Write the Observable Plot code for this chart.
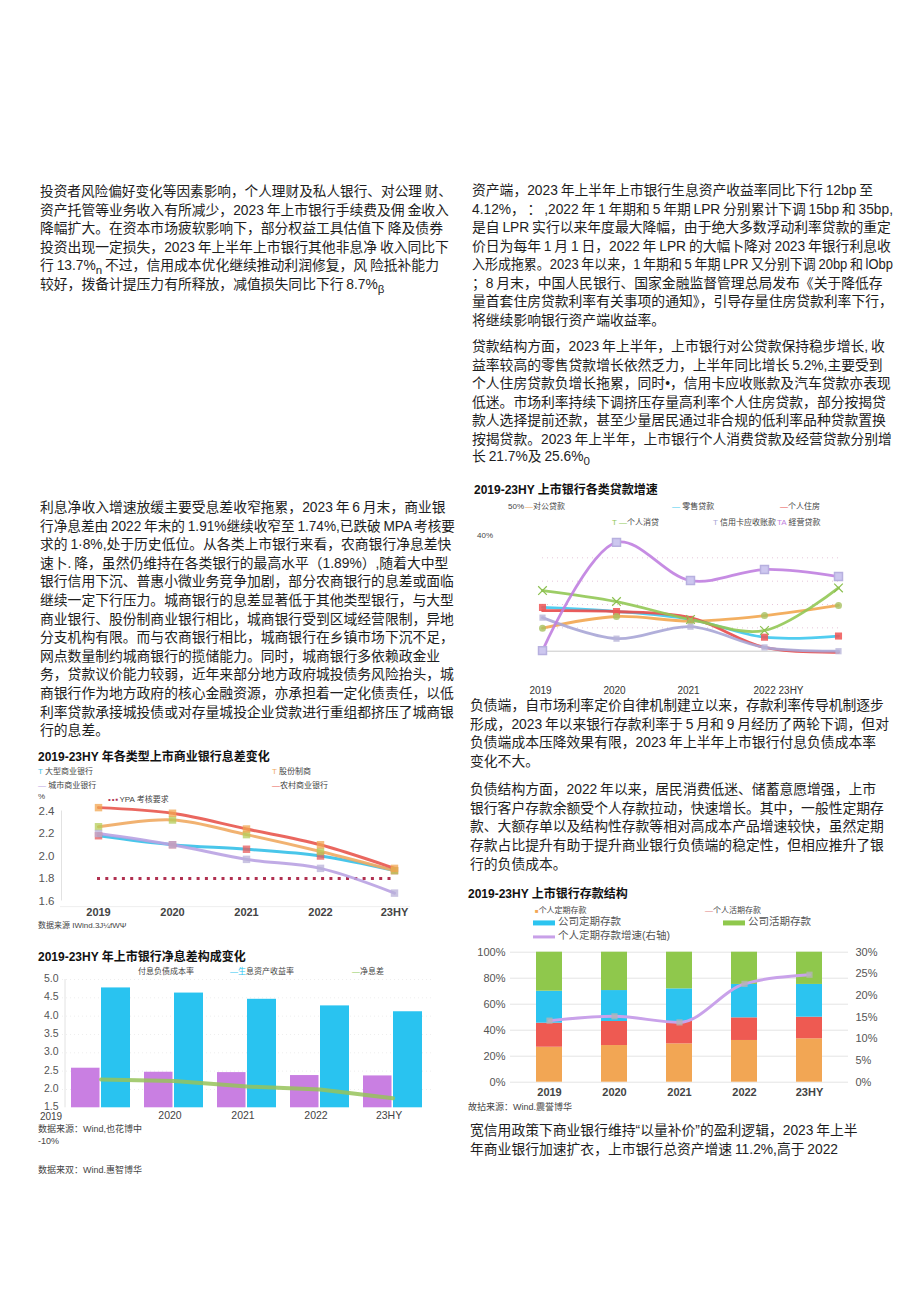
<!DOCTYPE html>
<html><head><meta charset="utf-8">
<script src="https://cdn.jsdelivr.net/npm/d3@7"></script>
<script src="https://cdn.jsdelivr.net/npm/@observablehq/plot@0.6"></script>
<style>
html,body{margin:0;padding:0;background:#fff;}
#page{position:relative;width:920px;height:1301px;overflow:hidden;background:#fff;
  font-family:"Liberation Sans","Noto Sans CJK SC",sans-serif;color:#222;}
.abs{position:absolute;white-space:nowrap;line-height:1.25;transform:translateY(-50%);transform-origin:0 50%;}
.ttl{font-size:12px;font-weight:bold;color:#111;}
.lg{font-size:8px;color:#444;}
.txt{font-size:13.8px;word-spacing:-1px;color:#1e1e1e;}
.sw{display:inline-block;width:22px;vertical-align:middle;margin-right:3px;}
</style></head>
<body><div id="page"></div>
<script>
// ---------------- DATA ----------------
const years = ["2019","2020","2021","2022","23HY"];

// Loan growth (%)
const loanSeries = ["对公贷款","零售贷款","个人住房","个人消贷","信用卡应收账款","经营贷款"];
const loanCorp     = [7.9, 11.9, 10.3, 12.2, 15.7];
const loanRetail   = [15.0, 13.6, 10.9, 4.8, 5.2];
const loanMortgage = [13.9, 13.6, 11.5, 1.3, -0.4];
const loanConsumer = [20.8, 17.0, 10.9, 7.1, 21.7];
const loanCard     = [11.5, 4.3, 8.4, 1.3, 0.0];
const loanBusiness = [0.2, 37.3, 24.2, 28.0, 25.6];
const loanXLabels  = ["2019","2020","2021","2022 23HY"];
const loanGrid     = [8, 16, 24, 32];

// Net interest margin by bank type (%)
const nimSeries = ["大型商业银行","股份制商业银行","城市商业银行","农村商业银行"];
const nimLarge = [2.18, 2.10, 2.06, 2.00, 1.87];
const nimJoint = [2.26, 2.32, 2.19, 2.04, 1.87];
const nimCity  = [2.20, 2.10, 1.97, 1.89, 1.67];
const nimRural = [2.43, 2.38, 2.24, 2.10, 1.89];
const mpaRequirement = 1.8;
const nimTicks = [1.6, 1.8, 2.0, 2.2, 2.4];

// NIM composition (%)
const costRate  = [2.58, 2.47, 2.46, 2.38, 2.37];
const yieldRate = [4.77, 4.63, 4.46, 4.28, 4.12];
const netMargin = [2.27, 2.23, 2.08, 2.00, 1.76];
const compTicks = [1.5, 2.0, 2.5, 3.0, 3.5, 4.0, 4.5, 5.0];

// Deposit structure (%)
const depSeries = ["个人定期存款","个人活期存款","公司定期存款","公司活期存款"];
const depPersonalTime   = [26.9, 28.2, 29.5, 32.1, 33.4];
const depPersonalDemand = [18.5, 18.5, 17.2, 17.4, 16.6];
const depCorpTime       = [24.6, 23.8, 25.1, 25.7, 25.2];
const depCorpDemand     = [30.0, 29.5, 28.2, 24.8, 24.8];
const depGrowth         = [14.2, 15.2, 13.8, 22.7, 24.8]; // right axis
const depLeftTicks  = [0, 20, 40, 60, 80, 100];
const depRightTicks = [0, 5, 10, 15, 20, 25, 30];

// Text
const textA = [
 "投资者风险偏好变化等因素影响，个人理财及私人银行、对公理 财、",
 "资产托管等业务收入有所减少，2023 年上市银行手续费及佣 金收入",
 "降幅扩大。在资本市场疲软影响下，部分权益工具估值下 降及债券",
 "投资出现一定损失，2023 年上半年上市银行其他非息净 收入同比下",
 "行 13.7%<sub>n</sub> 不过，信用成本优化继续推动利润修复，风 险抵补能力",
 "较好，拨备计提压力有所释放，减值损失同比下行 8.7%<sub>β</sub>"];
const textB = [
 "资产端，2023 年上半年上市银行生息资产收益率同比下行 12bp 至",
 "4.12%，   ：  ,2022 年 1 年期和 5 年期 LPR 分别累计下调 15bp 和 35bp,",
 "是自 LPR 实行以来年度最大降幅，由于绝大多数浮动利率贷款的重定",
 "价日为每年 1 月 1 日，2022 年 LPR 的大幅卜降对 2023 年银行利息收",
 "入形成拖累。2023 年以来，1 年期和 5 年期 LPR 又分别下调 20bp 和 lObp",
 "；8 月末，中国人民银行、国家金融监督管理总局发布《关于降低存",
 "量首套住房贷款利率有关事项的通知》，引导存量住房贷款利率下行，",
 "将继续影响银行资产端收益率。"];
const textC = [
 "贷款结构方面，2023 年上半年，上市银行对公贷款保持稳步增长, 收",
 "益率较高的零售贷款增长依然乏力，上半年同比增长 5.2%,主要受到",
 "个人住房贷款负增长拖累，同时•，信用卡应收账款及汽车贷款亦表现",
 "低迷。市场利率持续下调挤压存量高利率个人住房贷款，部分按揭贷",
 "款人选择提前还款，甚至少量居民通过非合规的低利率品种贷款置换",
 "按揭贷款。2023 年上半年，上市银行个人消费贷款及经营贷款分别增",
 "长 21.7%及 25.6%<sub>0</sub>"];
const textD = [
 "利息净收入增速放缓主要受息差收窄拖累，2023 年 6 月末，商业银",
 "行净息差由 2022 年末的 1.91%继续收窄至 1.74%,已跌破 MPA 考核要",
 "求的 1·8%,处于历史低位。从各类上市银行来看，农商银行净息差快",
 "速卜. 降，虽然仍维持在各类银行的最高水平（1.89%）,随着大中型",
 "银行信用下沉、普惠小微业务竞争加剧，部分农商银行的息差或面临",
 "继续一定下行压力。城商银行的息差显著低于其他类型银行，与大型",
 "商业银行、股份制商业银行相比，城商银行受到区域经营限制，异地",
 "分支机构有限。而与农商银行相比，城商银行在乡镇市场下沉不足，",
 "网点数量制约城商银行的揽储能力。同时，城商银行多依赖政金业",
 "务，贷款议价能力较弱，近年来部分地方政府城投债务风险抬头，城",
 "商银行作为地方政府的核心金融资源，亦承担着一定化债责任，以低",
 "利率贷款承接城投债或对存量城投企业贷款进行重组都挤压了城商银",
 "行的息差。"];
const textE = [
 "负债端，自市场利率定价自律机制建立以来，存款利率传导机制逐步",
 "形成，2023 年以来银行存款利率于 5 月和 9 月经历了两轮下调，但对",
 "负债端成本压降效果有限，2023 年上半年上市银行付息负债成本率",
 "变化不大。"];
const textF = [
 "负债结构方面，2022 年以来，居民消费低迷、储蓄意愿增强，上市",
 "银行客户存款余额受个人存款拉动，快速增长。其中，一般性定期存",
 "款、大额存单以及结构性存款等相对高成本产品增速较快，虽然定期",
 "存款占比提升有助于提升商业银行负债端的稳定性，但相应推升了银",
 "行的负债成本。"];
const textG = [
 "宽信用政策下商业银行维持“以量补价”的盈利逻辑，2023 年上半",
 "年商业银行加速扩衣，上市银行总资产增速 11.2%,高于 2022"];

// ---------------- LAYOUT HELPERS ----------------
const page = document.getElementById("page");
function put(html, x, y, cls, style) {
  const d = document.createElement("div");
  d.className = "abs " + (cls || "");
  d.style.left = x + "px"; d.style.top = y + "px";
  if (style) d.style.cssText += style;
  d.innerHTML = html;
  page.appendChild(d);
  return d;
}
function block(lines, x, y, step, maxW) {
  lines.forEach((t, i) => {
    const d = put(t, x, y + i * step, "txt");
    const w = d.getBoundingClientRect().width;
    if (w > maxW) d.style.transform = `translateY(-50%) scaleX(${maxW / w})`;
  });
}
function place(svg, x, y) {
  const d = document.createElement("div");
  d.style.cssText = `position:absolute;left:${x}px;top:${y}px;`;
  d.appendChild(svg);
  page.appendChild(d);
}
const svgStyle = {background: "transparent", overflow: "visible",
  fontFamily: "Liberation Sans, Noto Sans CJK SC, sans-serif"};

// ---------------- TEXT ----------------
block(textA, 40, 192, 18.7, 412);
block(textB, 472, 191, 18.5, 421);
block(textC, 472, 347, 18.5, 421);
block(textD, 40, 508, 18.6, 415);
block(textE, 470, 706, 18.5, 421);
block(textF, 470, 790, 18.7, 421);
block(textG, 470, 1131, 19, 421);

// ---------------- CHART 1: loans ----------------
const loanValues = [loanCorp, loanRetail, loanMortgage, loanConsumer, loanCard, loanBusiness];
const loanColors = ["#f2a650", "#3ec8ee", "#e84a4a", "#92c855", "#a9a6d6", "#c07fe0"];
const loanRows = [];
loanSeries.forEach((s, si) => years.forEach((yr, i) => loanRows.push({series: s, year: yr, v: loanValues[si][i]})));
const bySeries = s => loanRows.filter(d => d.series === s);

put("2019-23HY 上市银行各类贷款增速", 474, 490, "ttl");
put("50%", 508, 507, "lg");
put('<span style="color:#f2a650">—</span>对公贷款', 525, 507, "lg");
put('<span style="color:#3ec8ee">—</span> 零售贷款', 672, 507, "lg");
put('<span style="color:#e84a4a">—</span>个人住房', 780, 507, "lg");
put('<span style="color:#92c855">T —</span>个人消贷', 612, 523, "lg");
put('<span style="color:#a9a6d6">T</span> 信用卡应收账款', 713, 523, "lg");
put('<span style="color:#c07fe0">TA</span> 経营贷款', 777, 523, "lg");
put("40%", 477, 536, "lg");

place(Plot.plot({
  width: 420, height: 180, marginLeft: 67, marginRight: 57, marginTop: 14, marginBottom: 49.3,
  x: {type: "point", domain: years, padding: 0, axis: null},
  y: {domain: [0, 40], axis: null},
  color: {domain: loanSeries, range: loanColors},
  style: svgStyle,
  marks: [
    Plot.ruleY(loanGrid, {stroke: "#e6c4da", strokeDasharray: "1,4"}),
    Plot.ruleY([0], {stroke: "#c8c8c8"}),
    Plot.line(loanRows, {x: "year", y: "v", z: "series", stroke: "series", strokeWidth: 2.8, curve: "catmull-rom", strokeOpacity: 0.9}),
    Plot.dot(bySeries("经营贷款"), {x: "year", y: "v", symbol: "square", r: 4.5, fill: "#cdc7ef", stroke: "#b7b0df"}),
    Plot.dot(bySeries("零售贷款"), {x: "year", y: "v", symbol: "square", r: 4, fill: "#ee5555", fillOpacity: 0.85}),
    Plot.dot(bySeries("个人消贷"), {x: "year", y: "v", symbol: "times", r: 4, stroke: "#8cc050", strokeWidth: 1.2}),
    Plot.dot(bySeries("对公贷款"), {x: "year", y: "v", symbol: "circle", r: 3.5, fill: "#a8c060", fillOpacity: 0.8}),
    Plot.dot(bySeries("信用卡应收账款"), {x: "year", y: "v", symbol: "square", r: 3.5, fill: "#b8b4d8", fillOpacity: 0.8}),
    Plot.text(loanXLabels.slice(0, 3), {x: (d, i) => years[i], text: d => d, frameAnchor: "bottom", dy: 42.3, dx: -2, fontSize: 10, fill: "#333"}),
    Plot.text(loanXLabels.slice(3), {x: (d, i) => years[i + 3], text: d => d, frameAnchor: "bottom", dy: 42.3, dx: -11, textAnchor: "start", fontSize: 10, fill: "#333"})
  ]
}), 475, 520);

// ---------------- CHART 2: NIM by bank type ----------------
const nimValues = [nimLarge, nimJoint, nimCity, nimRural];
const nimColors = ["#35c0e8", "#f0aa62", "#b9a2e2", "#e8564e"];
const nimMarker = ["#e85a5a", "#b4cc58", "#b8b0d8", "#f2a650"];
const nimRows = [];
nimSeries.forEach((s, si) => years.forEach((yr, i) => nimRows.push({series: s, year: yr, v: nimValues[si][i]})));

put("2019-23HY 年各类型上市商业银行息差变化", 38, 757, "ttl");
put('<span style="color:#35c0e8">T</span> 大型商业银行', 38, 772, "lg");
put('<span style="color:#f0aa62">T</span> 股份制商', 272, 772, "lg");
put('<span style="color:#b9a2e2">—</span> 城市商业银行', 38, 786, "lg");
put('<span style="color:#e8564e">—</span>农村商业银行', 272, 786, "lg");
put('<span style="color:#b03050;letter-spacing:1px">••▪</span>YPA 考核要求', 108, 800, "lg");
put("%", 38, 797, "lg");
put("数据来源 IWind.3J¼fWΨ", 38, 926, "lg");

place(Plot.plot({
  width: 380, height: 125, marginLeft: 67, marginRight: 15, marginTop: 10.5, marginBottom: 24.5,
  x: {type: "point", domain: years, padding: 0, axis: null},
  y: {domain: [1.6, 2.4], axis: null},
  color: {domain: nimSeries, range: nimColors},
  style: svgStyle,
  marks: [
    Plot.ruleX([years[0]], {dx: -37, stroke: "#e2e2e2"}),
    Plot.ruleY([1.55], {stroke: "#eeeeee", insetLeft: -37, insetRight: -15}),
    Plot.ruleY([mpaRequirement], {stroke: "#b03050", strokeWidth: 3, strokeDasharray: "3,5.3"}),
    Plot.line(nimRows, {x: "year", y: "v", z: "series", stroke: "series", strokeWidth: 3, curve: "catmull-rom", strokeOpacity: 0.9}),
    Plot.dot(nimRows, {x: "year", y: "v", symbol: "square", r: 4.2, fill: d => nimMarker[nimSeries.indexOf(d.series)], fillOpacity: 0.75}),
    Plot.text(nimTicks, {y: d => d, text: d => d.toFixed(1), frameAnchor: "left", dx: -59, textAnchor: "start", fontSize: 11.5, fill: "#555"}),
    Plot.text(years, {x: d => d, text: d => d, frameAnchor: "bottom", dy: 14.5, fontSize: 11, fontWeight: "bold", fill: "#444"})
  ]
}), 30, 800);

// ---------------- CHART 3: NIM composition ----------------
const compRows = years.map((yr, i) => ({year: yr, cost: costRate[i], yield: yieldRate[i], nim: netMargin[i]}));

put("2019-23HY 年上市银行净息差构成变化", 38, 957, "ttl");
put("付息负债成本率", 138, 972, "lg");
put('<span style="color:#27c3f0">—生</span>息资产收益率', 230, 972, "lg");
put('<span style="color:#8cc850">—</span>净息差', 352, 972, "lg");
put("数据来源：Wind,也花博中", 38, 1130, "lg", "font-size:9px");
put("-10%", 38, 1142, "lg", "font-size:9px");
put("数据来双：Wind.惠智博华", 38, 1171, "lg", "font-size:9px");

place(Plot.plot({
  width: 402, height: 150, marginLeft: 32, marginRight: 1, marginTop: 4, marginBottom: 17.7,
  x: {type: "band", domain: years, paddingInner: 0.186, paddingOuter: 0.095, axis: null},
  y: {domain: [1.5, 5.0], axis: null},
  style: svgStyle,
  marks: [
    Plot.ruleY(compTicks.slice(1), {stroke: "#eeeeee", strokeDasharray: "1,3"}),
    Plot.ruleX([years[0]], {dx: -36, stroke: "#e2e2e2"}),
    Plot.barY(compRows, {x: "year", y1: 1.5, y2: "cost", fill: "#c97fe2", insetRight: 30.5}),
    Plot.barY(compRows, {x: "year", y1: 1.5, y2: "yield", fill: "#29c3f0", insetLeft: 30}),
    Plot.line(compRows, {x: "year", y: "nim", stroke: "#96c35a", strokeWidth: 4, strokeOpacity: 0.85}),
    Plot.text(compTicks, {y: d => d, text: d => d.toFixed(1), frameAnchor: "left", dx: -4, dy: -1, textAnchor: "end", fontSize: 10.5, fill: "#555"}),
    Plot.text(years.slice(0, 1), {x: d => d, text: d => d, frameAnchor: "bottom", dy: 12, dx: -50, fontSize: 10, fill: "#444"}),
    Plot.text(years.slice(1), {x: d => d, text: d => d, frameAnchor: "bottom", dy: 11, dx: -4, fontSize: 10.5, fill: "#444"})
  ]
}), 30, 975);

// ---------------- CHART 4: deposit structure ----------------
const depValues = [depPersonalTime, depPersonalDemand, depCorpTime, depCorpDemand];
const depColors = ["#f2a654", "#ee5a52", "#2cc4f0", "#8fc84c"];
const depRows = [];
depSeries.forEach((s, si) => years.forEach((yr, i) => depRows.push({series: s, year: yr, v: depValues[si][i]})));
const growthRows = years.map((yr, i) => ({year: yr, g: depGrowth[i]}));
const rightToLeft = g => g * 100 / 30;

put("2019-23HY 上市银行存款结构", 468, 894, "ttl");
put('<span style="color:#f2a654;font-size:6px">■</span>个人定期存款', 535, 911, "lg");
put('<span style="color:#e08080">—</span>个人活期存款', 705, 911, "lg");
put('<span class="sw" style="height:5px;background:#2cc4f0"></span>公司定期存款', 533, 922, "lg", "font-size:10.5px;color:#555");
put('<span class="sw" style="height:5px;background:#8fc84c"></span>公司活期存款', 723, 922, "lg", "font-size:10.5px;color:#555");
put('<span class="sw" style="height:3px;background:#c8a0e8"></span>个人定期存款增速(右轴)', 533, 936, "lg", "font-size:10.5px;color:#555");
put("故拈来源：Wind.震誉博华", 468, 1108, "lg", "font-size:9px");

place(Plot.plot({
  width: 430, height: 160, marginLeft: 40, marginRight: 52, marginTop: 6.7, marginBottom: 23.3,
  x: {type: "band", domain: years, paddingInner: 0.594, paddingOuter: 0.365, axis: null},
  y: {domain: [0, 100], axis: null},
  color: {domain: depSeries, range: depColors},
  style: svgStyle,
  marks: [
    Plot.ruleY(depLeftTicks, {stroke: "#e4e4e4"}),
    Plot.barY(depRows, {x: "year", y: "v", fill: "series", order: depSeries}),
    Plot.line(growthRows, {x: "year", y: d => rightToLeft(d.g), stroke: "#c9a2ea", strokeWidth: 3, curve: "monotone-x"}),
    Plot.dot(growthRows, {x: "year", y: d => rightToLeft(d.g), symbol: "square", r: 3.5, fill: "#b4b4b4", fillOpacity: 0.8}),
    Plot.text(depLeftTicks, {y: d => d, text: d => d + "%", frameAnchor: "left", dx: -5, textAnchor: "end", fontSize: 11, fill: "#555"}),
    Plot.text(depRightTicks, {y: d => rightToLeft(d), text: d => d + "%", frameAnchor: "right", dx: 7, textAnchor: "start", fontSize: 11, fill: "#555"}),
    Plot.text(years, {x: d => d, text: d => d, frameAnchor: "bottom", dy: 13.5, fontSize: 11, fontWeight: "bold", fill: "#444"})
  ]
}), 470, 945);
</script>
</body></html>
